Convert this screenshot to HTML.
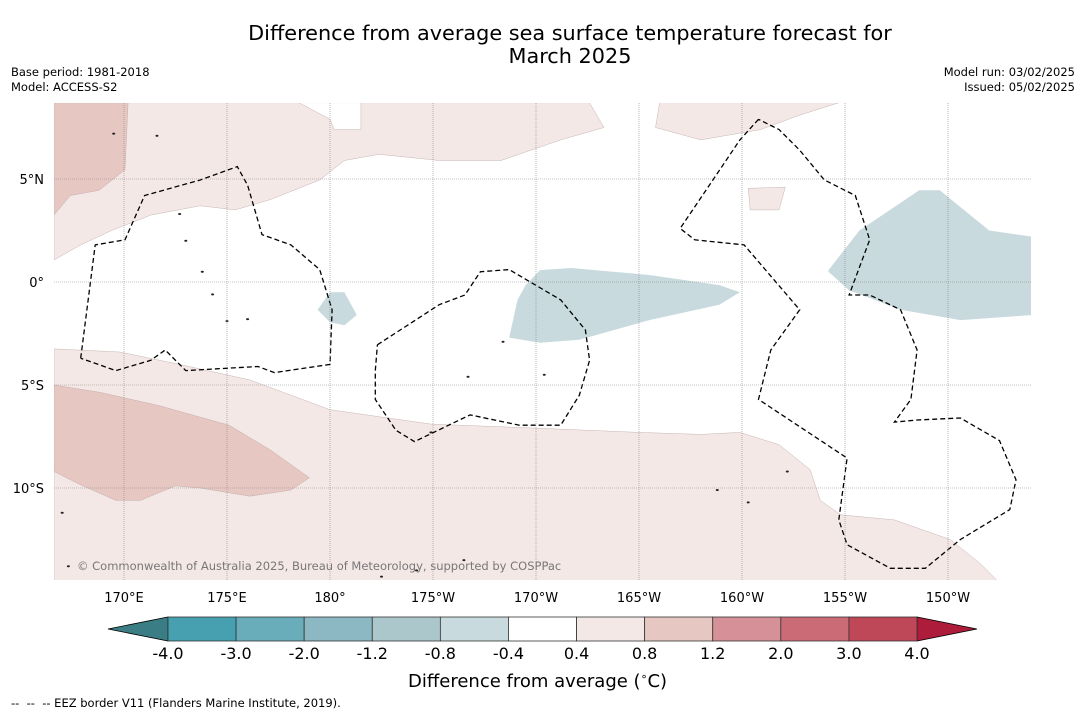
<!DOCTYPE html>
<html><head><meta charset="utf-8">
<style>
html,body{margin:0;padding:0;background:#fff;}
body{width:1085px;height:713px;overflow:hidden;position:relative;font-family:"DejaVu Sans","Liberation Sans",sans-serif;color:#000;}
.t{position:absolute;white-space:nowrap;}
</style></head>
<body>
<div class="t" style="left:0;width:1140px;top:22px;text-align:center;font-size:20.8px;line-height:23px;">Difference from average sea surface temperature forecast for<br>March 2025</div>
<div class="t" style="left:11px;top:65px;font-size:11.5px;line-height:15px;">Base period: 1981-2018<br>Model: ACCESS-S2</div>
<div class="t" style="right:10px;top:65px;font-size:11.5px;line-height:15px;text-align:right;">Model run: 03/02/2025<br>Issued: 05/02/2025</div>
<svg id="chart" width="1085" height="713" style="position:absolute;left:0;top:0;" xmlns="http://www.w3.org/2000/svg">
<defs><clipPath id="mapclip"><rect x="54" y="103" width="977" height="477"/></clipPath></defs>
<g id="map" clip-path="url(#mapclip)"></g>
<g id="grid"></g>
<g id="axes"></g>
<g id="cbar"></g>
</svg>
<div class="t" style="left:408px;top:670px;font-size:18px;">Difference from average (<sup style="font-size:11px">∘</sup>C)</div>
<div class="t" style="left:11px;top:696px;font-size:11.5px;">--&nbsp; --&nbsp; -- EEZ border V11 (Flanders Marine Institute, 2019).</div>
<script>
// ---- data ----
const lonTicks=[170,175,180,185,190,195,200,205,210];
const lonTickLabels=["170°E","175°E","180°","175°W","170°W","165°W","160°W","155°W","150°W"];
const latTicks=[5,0,-5,-10];
const latTickLabels=["5°N","0°","5°S","10°S"];
const cbarLevels=["-4.0","-3.0","-2.0","-1.2","-0.8","-0.4","0.4","0.8","1.2","2.0","3.0","4.0"];
const cbarColors=["#46a0b0","#69adbb","#8cb8c3","#abc7cc","#c8dadd","#ffffff","#f4e8e6","#e6c7c2","#d69198","#cb6b75","#bf4858"];
const cbarLow="#3a7d84", cbarHigh="#ad1c3a";
// contour polygons [lon(0-360), lat]
const pinkTopLeft=[[166.6,8.7],[166.6,1.07],[167.9,1.8],[169.4,2.5],[171.3,3.25],[173.7,3.7],[175.4,3.5],[177.1,4.0],[179.5,4.95],[180.7,5.9],[182.4,6.2],[185.3,5.9],[188.3,5.9],[191.2,6.9],[193.3,7.5],[192.6,8.7]];
const pinkTopLeftDark=[[166.6,8.7],[170.2,8.7],[170.05,5.45],[168.8,4.45],[167.4,4.2],[166.6,3.25]];
const whiteHole=[[178.5,8.7],[180,7.9],[180.2,7.4],[181.5,7.4],[181.5,8.7]];
const pinkTopRight=[[196,8.7],[195.8,7.5],[198,6.9],[200.9,7.4],[202.8,8.1],[204.7,8.7]];
const pinkBox=[[200.3,4.55],[202.1,4.6],[201.8,3.5],[200.4,3.5]];
const pinkBottom=[[166.6,-3.25],[169.8,-3.4],[172.7,-4.0],[176.1,-4.75],[180,-6.2],[184.9,-6.9],[190.2,-7.1],[195,-7.3],[198,-7.4],[199.9,-7.3],[201.8,-7.9],[203.3,-9.1],[203.8,-10.6],[204.8,-11.3],[207.4,-11.55],[210.1,-12.5],[211.6,-13.7],[212.5,-14.6],[166.6,-14.6]];
const pinkBottomDark=[[166.6,-5.0],[168.8,-5.35],[171.7,-6.0],[175.1,-6.95],[177.1,-8.15],[179.0,-9.5],[178.1,-10.1],[176.1,-10.4],[173.7,-10.0],[172.5,-9.9],[170.8,-10.6],[169.6,-10.6],[167.9,-9.85],[166.6,-9.2]];
const blueMid=[[190.2,0.58],[191.7,0.68],[195.5,0.34],[198.9,-0.15],[199.9,-0.5],[198.9,-1.1],[195.5,-1.85],[192.1,-2.8],[190.2,-2.95],[188.7,-2.7],[189.1,-0.87],[189.5,-0.15]];
const blueRight=[[204.2,0.58],[205.7,2.5],[208.6,4.45],[209.6,4.45],[212,2.5],[214.1,2.2],[214.1,-1.6],[210.6,-1.85],[207.7,-1.35],[205.2,-0.4],[204.2,0.5]];
const blueSmall=[[179.4,-1.35],[180,-0.5],[180.7,-0.5],[181.3,-1.6],[180.7,-2.1],[180,-1.95]];
const eez1=[[167.9,-3.7],[168.6,1.8],[170.05,2.05],[171,4.2],[173.7,4.95],[175.5,5.6],[176,4.7],[176.7,2.3],[178.1,1.8],[179.5,0.6],[180.1,-1.35],[180,-4.0],[177.3,-4.4],[176.5,-4.1],[173,-4.3],[172,-3.3],[171.3,-3.8],[169.6,-4.3],[167.9,-3.7]];
const eez2=[[182.3,-3.05],[185.3,-1.1],[186.55,-0.63],[187.3,0.5],[188.7,0.6],[191.2,-0.87],[192.4,-2.33],[192.6,-3.8],[192.1,-5.5],[191.2,-6.95],[189.2,-6.95],[186.8,-6.45],[184.1,-7.75],[183.2,-7.2],[182.2,-5.7],[182.2,-4.3],[182.3,-3.05]];
const eez3=[[200.8,7.9],[199.9,6.9],[197,2.6],[197.7,2.05],[200.1,1.8],[202.8,-1.35],[201.4,-3.3],[200.8,-5.7],[205.1,-8.55],[204.7,-11.55],[205.1,-12.75],[207.2,-13.9],[208.9,-13.9],[210.6,-12.5],[213,-11.05],[213.3,-9.6],[212.5,-7.7],[210.6,-6.6],[208.5,-6.7],[207.4,-6.8],[208.2,-5.7],[208.5,-3.3],[207.7,-1.35],[206.2,-0.63],[205.2,-0.63],[206.2,2.05],[205.5,4.2],[204,4.95],[202.8,6.4],[201.8,7.4],[200.8,7.9]];
const islands=[[169.5,7.2],[171.6,7.1],[172.7,3.3],[173.0,2.0],[173.8,0.5],[174.3,-0.6],[175.0,-1.9],[176,-1.8],[184.9,-7.3],[186.7,-4.6],[188.4,-2.9],[190.4,-4.5],[198.8,-10.1],[202.2,-9.2],[200.3,-10.7],[186.5,-13.5],[184.2,-14.0],[167,-11.2],[167.3,-13.8],[182.5,-14.3]];
// ---- axis functions ----
const X=lon=>124+(lon-170)*20.6;
const Y=lat=>282-lat*20.6;
const NS="http://www.w3.org/2000/svg";
function mk(tag,attrs,parent){const e=document.createElementNS(NS,tag);for(const k in attrs)e.setAttribute(k,attrs[k]);parent.appendChild(e);return e;}
const pts=a=>a.map(p=>X(p[0]).toFixed(1)+","+Y(p[1]).toFixed(1)).join(" ");
const map=document.getElementById('map');
function poly(arr,fill,name,stroke){const e=mk('polygon',{points:pts(arr),fill:fill,stroke:stroke||'#b9a5a3','stroke-width':0.4},map);

return e;}
mk('rect',{x:54,y:103,width:977,height:477,fill:'#fff'},map);
poly(pinkTopLeft,cbarColors[6],'anomaly-area-north-west');
poly(pinkTopLeftDark,cbarColors[7],'anomaly-area-north-west-warm');
poly(whiteHole,'#ffffff','neutral-area-north');
poly(pinkTopRight,cbarColors[6],'anomaly-area-north-east');
poly(pinkBox,cbarColors[6],'anomaly-area-small');
poly(pinkBottom,cbarColors[6],'anomaly-area-south');
poly(pinkBottomDark,cbarColors[7],'anomaly-area-south-west-warm');
poly(blueMid,cbarColors[4],'cool-anomaly-central','none');
poly(blueRight,cbarColors[4],'cool-anomaly-east','none');
poly(blueSmall,cbarColors[4],'cool-anomaly-small','none');
islands.forEach(p=>{const e=mk('ellipse',{cx:X(p[0]),cy:Y(p[1]),rx:1.5,ry:1,fill:'#222'},map);

});
[eez1,eez2,eez3].forEach((a,i)=>{const e=mk('polyline',{points:pts(a),fill:'none',stroke:'#000','stroke-width':1.3,'stroke-dasharray':'5,3'},map);

});
const cr=mk('text',{x:77,y:570,'font-size':11.5,fill:'#777','font-family':'DejaVu Sans, Liberation Sans, sans-serif'},map);
cr.textContent="© Commonwealth of Australia 2025, Bureau of Meteorology, supported by COSPPac";


// grid & ticks
const grid=document.getElementById('grid'), axes=document.getElementById('axes');
lonTicks.forEach((l,i)=>{const g=mk('line',{x1:X(l),x2:X(l),y1:103,y2:580,stroke:'#888','stroke-width':0.6,'stroke-dasharray':'1,1'},grid);


const t=mk('text',{x:X(l),y:602,'font-size':13,'text-anchor':'middle','font-family':'DejaVu Sans, Liberation Sans, sans-serif'},axes);t.textContent=lonTickLabels[i];

});
latTicks.forEach((l,i)=>{const g=mk('line',{x1:54,x2:1031,y1:Y(l),y2:Y(l),stroke:'#888','stroke-width':0.6,'stroke-dasharray':'1,1'},grid);


const t=mk('text',{x:44,y:Y(l)+5,'font-size':13,'text-anchor':'end','font-family':'DejaVu Sans, Liberation Sans, sans-serif'},axes);t.textContent=latTickLabels[i];

});
// colorbar
const cb=document.getElementById('cbar');
const cx0=168,cx1=917,cy=617,ch=24,n=cbarColors.length,sw=(cx1-cx0)/n;
const lo=mk('polygon',{points:`108,${cy+ch/2} ${cx0},${cy} ${cx0},${cy+ch}`,fill:cbarLow,stroke:'#000','stroke-width':0.8},cb);


const hi=mk('polygon',{points:`977,${cy+ch/2} ${cx1},${cy} ${cx1},${cy+ch}`,fill:cbarHigh,stroke:'#000','stroke-width':0.8},cb);


cbarColors.forEach((c,i)=>{const r=mk('rect',{x:cx0+i*sw,y:cy,width:sw,height:ch,fill:c,stroke:'#333','stroke-width':0.8},cb);

});
cbarLevels.forEach((v,i)=>{const t=mk('text',{x:cx0+i*sw,y:659,'font-size':16,'text-anchor':'middle','font-family':'DejaVu Sans, Liberation Sans, sans-serif'},cb);t.textContent=v;

});
</script>
</body></html>
